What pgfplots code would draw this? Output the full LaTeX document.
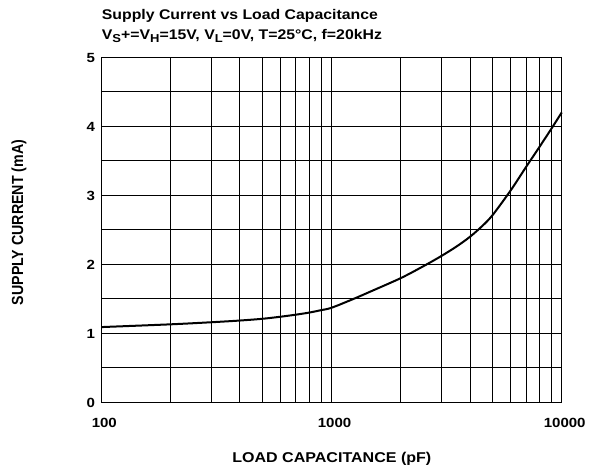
\documentclass[border=0pt]{standalone}
\usepackage{pgfplots}
\pgfplotsset{compat=1.18}
\usepackage{fontspec}
\setmainfont{Liberation Sans}
\newcommand\sx[1]{\scalebox{1.13}[1]{#1}}
\newcommand\sub[1]{\raisebox{-3.2pt}{\fontsize{11.5}{12}\selectfont #1}}
\begin{document}
\begin{tikzpicture}[x=1pt,y=1pt]
\useasboundingbox (-101.3,-67.7) rectangle (495.7,402.3);
\begin{axis}[
  at={(0,0)}, anchor=south west,
  scale only axis, width=460.4pt, height=345pt,
  xmode=log, log basis x=10,
  xmin=100, xmax=10000, ymin=0, ymax=5,
  xtick={100,1000,10000},
  xticklabels={\sx{\textbf{100}},\sx{\textbf{1000}},\sx{\textbf{10000}}},
  minor xtick={200,300,400,500,600,700,800,900,2000,3000,4000,5000,6000,7000,8000,9000},
  ytick={0,1,2,3,4,5},
  yticklabels={\sx{\textbf{0}},\sx{\textbf{1}},\sx{\textbf{2}},\sx{\textbf{3}},\sx{\textbf{4}},\sx{\textbf{5}}},
  minor ytick={0.5,1.5,2.5,3.5,4.5},
  grid=both,
  major grid style={black, line width=0.8pt},
  minor grid style={black, line width=0.8pt},
  axis line style={black, line width=0.8pt},
  major tick length=0pt, minor tick length=0pt,
  tick label style={font=\fontsize{13.3}{15}\selectfont},
  xticklabel style={anchor=base, yshift=-25.4pt, xshift=3pt},
  yticklabel style={anchor=east, xshift=-6pt, inner sep=0pt, yshift=-0.8pt},
  clip=false,
]
\addplot[black, line width=2pt, smooth, tension=0.5] coordinates {
(100,1.09) (200,1.13) (300,1.16) (400,1.185) (500,1.21) (600,1.24) (700,1.27)
(800,1.30) (900,1.335) (1000,1.37) (1250,1.50) (1500,1.615) (2000,1.80)
(2500,1.97) (3000,2.12) (3500,2.26) (4000,2.40) (4500,2.55) (5000,2.71)
(6000,3.07) (7000,3.41) (8000,3.70) (9000,3.96) (10000,4.20)};
\end{axis}
\node[anchor=base west, inner sep=0pt, font=\bfseries\fontsize{14}{16}\selectfont] at (0.4,383) {\sx{Supply Current vs Load Capacitance}};
\node[anchor=base west, inner sep=0pt, font=\bfseries\fontsize{14}{16}\selectfont] at (0.4,363) {\sx{V\sub{S}+=V\sub{H}=15V, V\sub{L}=0V, T=25\textdegree C, f=20kHz}};
\node[inner sep=0pt, font=\bfseries\fontsize{14.2}{16}\selectfont, rotate=90] at (-82.3,179.8) {\scalebox{1}[1.13]{SUPPLY CURRENT (mA)}};
\node[anchor=base, inner sep=0pt, font=\bfseries\fontsize{14.2}{16}\selectfont] at (230.5,-60.4) {\sx{LOAD CAPACITANCE (pF)}};
\end{tikzpicture}
\end{document}
